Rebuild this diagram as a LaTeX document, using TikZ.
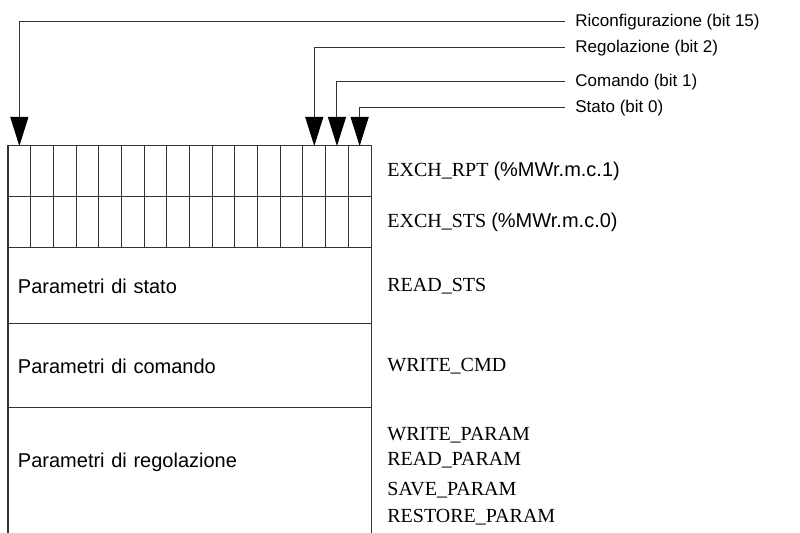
\documentclass[tikz,border=0pt]{standalone}
\usepackage{fontspec}
\setmainfont{Liberation Serif}
\setsansfont{Liberation Sans}
\usetikzlibrary{arrows.meta,positioning,calc}

\begin{document}
\begin{tikzpicture}[
        x=0.5pt, y=-0.5pt,
        font=\fontsize{10pt}{12pt}\selectfont,
        node distance=0pt,
        box/.style   ={line width=0.5pt, draw=black!80},
        bitrow/.style={box, outer sep=0pt, inner sep=0pt, minimum width=181.5pt, minimum height=25.5pt},
        parrow/.style={box, outer sep=0pt, inner xsep=5pt, inner ysep=0pt, minimum width=181.5pt, text width=171.5pt, align=left, font=\sffamily\fontsize{10pt}{12pt}\selectfont},
        flag/.style  ={anchor=mid west, inner xsep=5pt, font=\sffamily\fontsize{8.5pt}{10pt}\selectfont},
        reg/.style   ={anchor=west, inner sep=0pt},
        arr/.style   ={box, -{Triangle[length=14.5pt, width=9pt, color=black]}},
    ]
        \useasboundingbox (0,0) rectangle (800,533);

        % --- registri e zone parametri ---
        \node[bitrow, anchor=north west] (rpt) at (8,146) {};
        \node[bitrow, below=of rpt] (sts) {};
        \node[parrow, below=of sts, minimum height=38pt] (stato) {Parametri di stato};
        \node[parrow, below=of stato, minimum height=42pt] (comando) {Parametri di comando};
        \node[parrow, below=of comando, minimum height=54pt, draw=none] (regol) {Parametri di regolazione};
        \coordinate (fondo) at (0,533);
        \draw[box] (regol.north west) -- (regol.north west |- fondo);
        \draw[box] (regol.north east) -- (regol.north east |- fondo);

        % --- celle dei bit ---
        \foreach \i in {1,...,15}
            \draw[box] ($(rpt.north west)!\i/16!(rpt.north east)$) -- ($(sts.south west)!\i/16!(sts.south east)$);
        \foreach \b [evaluate=\b as \f using (\b+0.5)/16] in {0,...,15}
            \coordinate (bit\b) at ($(rpt.north east)!\f!(rpt.north west)$);

        % --- etichette dei bit ---
        \node[flag] (ric)  at (565,22)  {Riconfigurazione (bit 15)};
        \node[flag] (rego) at (565,48)  {Regolazione (bit 2)};
        \node[flag] (com)  at (565,82)  {Comando (bit 1)};
        \node[flag] (sta)  at (565,108) {Stato (bit 0)};

        % --- Frecce ---
        \draw[arr] (ric.mid west) -| (bit15);
        \draw[arr] (rego.mid west) -| (bit2);
        \draw[arr] (com.mid west) -| (bit1);
        \draw[arr] (sta.mid west) -| (bit0);

        % --- nomi a destra ---
        \node[reg, right=8pt of rpt] (exrpt) {EXCH\_RPT {\sffamily(\%MWr.m.c.1)}};
        \node[reg, right=8pt of sts] (exsts) {EXCH\_STS {\sffamily(\%MWr.m.c.0)}};
        \node[reg, right=8pt of stato] (rsts) {READ\_STS};
        \node[reg, right=8pt of comando] (wcmd) {WRITE\_CMD};
        \node[reg] (wpar) at ([xshift=8pt, yshift=-13.5pt]regol.north east) {WRITE\_PARAM};
        \node[reg] (rpar) at ([yshift=-12.5pt]wpar.west) {READ\_PARAM};
        \node[reg] (spar) at ([yshift=-15pt]rpar.west) {SAVE\_PARAM};
        \node[reg] (rspar) at ([yshift=-13.5pt]spar.west) {RESTORE\_PARAM};
    \end{tikzpicture}
\end{document}
